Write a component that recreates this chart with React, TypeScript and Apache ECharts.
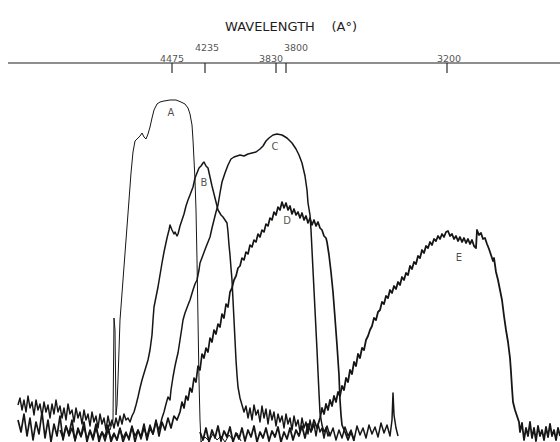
import React, { useEffect, useRef } from "react";
import * as echarts from "echarts";

// Recorder traces: [position along chart, deflection below top edge]
const TRACE_A: number[][] = [
  [105,425],[110,430],[113,420],[114,318],[115,330],[116,415],[117,405],[118,380],[120,320],[123,280],[126,240],[129,200],[131,173],[133,152],[135,141],[137,139],[140,136],[142,133],[144,137],[146,139],[148,134],[150,127],[152,118],[154,110],[157,104],[160,102],[164,101],[170,100],[176,100],[181,102],[185,104],[188,108],[190,114],[192,125],[193,140],[194,160],[195,180],[196,210],[197,260],[198,320],[199,380],[200,420],[201,442],
  [205,437],[209,441],[213,434],[217,440],[221,436],[225,442],[229,435],[233,440],[237,433],[241,441]
];

const TRACE_B: number[][] = [
  [18,405],[20,398],[22,410],[24,400],[26,412],[28,396],[30,408],[32,402],[34,415],[36,400],[38,410],[40,404],[42,416],[44,402],[46,412],[48,405],[50,418],[52,404],[54,414],[56,400],[58,412],[60,406],[62,418],[64,408],[66,420],[68,404],[70,414],[72,410],[74,422],[76,408],[78,418],[80,412],[82,424],[84,410],[86,420],[88,414],[90,426],[92,412],[94,422],[96,416],[98,428],[100,414],[102,424],[104,418],[106,430],[108,416],[110,426],[112,420],[114,428],[116,418],[118,426],[120,416],[122,424],[124,414],[126,420],[128,418],[130,422],[132,416],[134,412],[136,405],[138,397],[140,388],[142,380],[145,370],[148,360],[150,350],[152,335],[153,320],[154,307],[156,297],[158,287],[160,275],[162,263],[164,252],[167,238],[169,230],[170,225],[172,230],[174,234],[175,232],[177,236],[178,234],[180,226],[182,220],[184,214],[186,206],[188,200],[190,195],[193,187],[195,178],[197,173],[199,168],[201,166],[203,163],[204,162],[206,166],[208,168],[210,177],[212,186],[214,194],[216,202],[218,210],[221,215],[223,217],[225,220],[227,223],[228,232],[229,245],[230,255],[231,268],[232,280],[233,300],[234,320],[235,340],[236,360],[237,375],[238,387],[240,398],[242,405],[244,412],[246,406],[248,418],[250,408],[252,420],[254,405],[256,415],[258,410],[260,422],[262,406],[264,418],[266,409],[268,424],[270,410],[272,420],[274,412],[276,426],[278,414],[280,422],[282,416],[284,428],[286,414],[288,424],[290,418],[292,430],[294,416],[296,426],[298,420],[300,432],[302,418],[304,428],[306,422],[308,434],[310,420],[312,430],[314,424],[316,436],[318,424],[320,432],[322,428],[324,438],[326,428],[328,436],[330,432]
];

const TRACE_C: number[][] = [
  [60,430],[63,438],[66,426],[69,436],[72,428],[75,440],[78,430],[81,437],[84,427],[87,439],[90,431],[93,440],[96,428],[99,438],[102,432],[105,441],[108,430],[111,439],[114,433],[117,440],[120,429],[123,438],[126,432],[129,440],[132,427],[135,436],[138,430],[141,439],[144,428],[147,437],[150,425],[153,434],[156,422],[159,430],[162,418],[164,412],[166,404],[168,397],[170,400],[171,390],[173,377],[175,366],[177,357],[178,353],[180,340],[182,327],[183,320],[185,313],[188,305],[190,300],[193,290],[195,284],[197,280],[199,270],[200,263],[203,255],[206,247],[208,242],[210,237],[212,228],[214,220],[216,212],[218,205],[220,193],[222,182],[225,173],[228,165],[231,159],[234,157],[237,156],[240,155],[244,156],[248,154],[252,153],[256,152],[260,149],[263,146],[266,141],[269,138],[273,135],[277,134],[282,135],[287,138],[292,143],[296,149],[299,155],[302,163],[305,176],[307,190],[308,203],[310,215],[311,230],[312,250],[313,270],[314,290],[315,310],[316,330],[317,350],[318,372],[319,393],[320,413],[322,425],[324,432],[327,426],[330,436],[333,428],[336,440],[339,430],[342,438],[345,427],[348,436],[351,430],[354,440],[357,426],[360,435],[363,428],[366,438],[369,425],[372,434],[375,427],[378,437],[381,423],[384,433],[387,425],[390,436],[392,420],[393,393],[394,415],[396,428],[398,436]
];

const TRACE_D: number[][] = [
  [18,420],[21,432],[24,414],[27,436],[30,418],[33,440],[36,422],[39,434],[42,412],[45,438],[48,420],[51,442],[54,424],[57,436],[60,416],[63,440],[66,426],[69,434],[72,420],[75,441],[78,428],[81,436],[84,422],[87,442],[90,430],[93,438],[96,424],[99,442],[102,432],[105,437],[108,425],[111,442],[114,434],[117,440],[120,428],[123,442],[126,434],[129,438],[132,426],[135,442],[138,430],[141,437],[144,424],[147,440],[150,428],[153,434],[156,420],[159,436],[162,422],[165,430],[168,418],[171,428],[174,416],[177,420],
  [180,412],[182,402],[184,408],[186,396],[188,400],[190,388],[192,392],[194,378],[196,382],[198,366],[200,370],[202,354],[204,358],[206,348],[208,352],[210,338],[212,342],[214,330],[216,334],[218,324],[220,327],[222,314],[224,318],[226,304],[228,307],[230,292],[232,288],[234,280],[236,276],[238,268],[240,266],[242,258],[244,260],[246,252],[248,254],[250,245],[252,247],[254,240],[256,242],[258,234],[260,237],[262,230],[264,232],[266,224],[268,226],[270,218],[272,220],[274,212],[276,215],[278,207],[280,210],[282,202],[284,208],[286,203],[288,210],[290,206],[292,214],[294,209],[296,215],[298,212],[300,218],[302,213],[304,220],[306,216],[308,223],[310,218],[312,225],[314,220],[316,226],[318,222],[320,228],[322,230],[324,236],[326,238],[327,242],
  [329,255],[331,272],[333,292],[335,318],[337,345],[339,375],[340,400],[341,415],[342,425],[345,432],[348,440],[351,432],[354,441]
];

const TRACE_E: number[][] = [
  [200,432],[203,440],[206,428],[209,442],[212,430],[215,438],[218,426],[221,441],[224,431],[227,437],[230,427],[233,442],[236,433],[239,439],[242,428],[245,441],[248,430],[251,437],[254,426],[257,442],[260,432],[263,438],[266,428],[269,441],[272,431],[275,437],[278,427],[281,442],[284,432],[287,439],[290,428],[293,440],[296,430],[299,436],[302,426],[305,438],[308,424],[311,432],[314,420],[317,428],
  [320,418],[322,408],[324,414],[326,404],[328,410],[330,400],[332,406],[334,396],[336,402],[338,392],[340,396],[342,386],[344,390],[346,378],[348,382],[350,370],[352,374],[354,362],[356,366],[358,354],[360,358],[362,348],[364,350],[366,340],[368,336],[370,330],[372,326],[374,318],[376,320],[378,312],[380,310],[382,302],[384,304],[386,296],[388,298],[390,290],[392,293],[394,286],[396,289],[398,282],[400,285],[402,277],[404,280],[406,273],[408,275],[410,266],[412,269],[414,262],[416,264],[418,256],[420,258],[422,250],[424,253],[426,246],[428,248],[430,242],[432,245],[434,239],[436,241],[438,236],[440,239],[442,234],[444,237],[446,232],[448,231],[450,236],[452,234],[454,239],[456,236],[458,241],[460,237],[462,242],[464,238],[466,243],[468,239],[470,244],[472,240],[474,246],[476,248],[477,230],[479,235],[481,233],[483,239],[485,238],[487,244],[489,249],[491,255],[493,261],[494,258],[496,272],[498,280],[500,290],[502,300],[504,316],[506,330],[508,342],[510,358],[511,372],[512,388],[513,402],[515,410],[517,416],[519,422],
  [520,432],[522,423],[524,440],[526,428],[528,436],[530,422],[532,438],[534,428],[536,441],[538,426],[540,436],[542,430],[544,440],[546,427],[548,437],[550,424],[552,436],[554,430],[556,440],[558,428],[560,436]
];

// Wavelength scale (top)
const TICK_POS = [172, 205, 276, 286, 447];
const TICK_LABELS = ["4475", "4235", "3830", "3800", "3200"];
const TICK_RAISED = [false, true, false, true, false];
const AXIS_ROW = 63;
const AXIS_SPAN = [8, 560];

// Curve letters
const CURVE_NAMES = ["A", "B", "C", "D", "E"];
const CURVE_LABEL_POS = [[171, 112], [204, 182], [275, 146], [287, 220], [459, 257]];

const INK = "#161616";
const TEXT = "#1e1e1e";
const FONT = "DejaVu Sans";

export default function App() {
  const ref = useRef<HTMLDivElement>(null);
  useEffect(() => {
    document.body.style.margin = "0";
    const chart = echarts.init(ref.current!, undefined, { renderer: "svg" });
    const labelOffsets: Record<string, number> = { "3830": -5, "3800": 10, "4235": 2, "3200": 2 };
    const traceStyle = (w: number) => ({
      type: "line" as const,
      showSymbol: false,
      symbol: "none",
      silent: true,
      lineStyle: { color: INK, width: w, join: "round" as const },
      z: 3,
    });
    chart.setOption({
      animation: false,
      backgroundColor: "#ffffff",
      title: {
        text: "WAVELENGTH    (A°)",
        left: 286,
        top: 15,
        textAlign: "center",
        textStyle: { fontFamily: FONT, fontSize: 13, fontWeight: "normal", color: TEXT },
      },
      grid: { left: 0, right: 0, top: 0, bottom: 0 },
      xAxis: { type: "value", min: 0, max: 560, show: false },
      yAxis: { type: "value", min: 0, max: 442, inverse: true, show: false },
      series: [
        { ...traceStyle(1), name: "A", data: TRACE_A },
        { ...traceStyle(1.5), name: "B", data: TRACE_B },
        { ...traceStyle(1.5), name: "C", data: TRACE_C },
        { ...traceStyle(1.7), name: "D", data: TRACE_D },
        { ...traceStyle(1.8), name: "E", data: TRACE_E },
        {
          type: "line",
          name: "axis",
          symbol: "none",
          silent: true,
          lineStyle: { color: TEXT, width: 1.2 },
          data: [[AXIS_SPAN[0], AXIS_ROW], [AXIS_SPAN[1], AXIS_ROW]],
        },
        {
          type: "scatter",
          name: "ticks",
          silent: true,
          symbol: "rect",
          symbolSize: [1.4, 10],
          itemStyle: { color: TEXT },
          data: TICK_POS.map((x) => [x, AXIS_ROW + 5]),
        },
        {
          type: "scatter",
          name: "tickLabels",
          silent: true,
          symbolSize: 0,
          itemStyle: { color: TEXT },
          data: TICK_POS.map((x, i) => ({
            value: [x + (labelOffsets[TICK_LABELS[i]] || 0), TICK_RAISED[i] ? AXIS_ROW - 16 : AXIS_ROW - 5],
            label: {
              show: true,
              formatter: TICK_LABELS[i],
              position: "inside",
              fontFamily: FONT,
              fontSize: 9.5,
              color: TEXT,
            },
          })),
        },
        {
          type: "scatter",
          name: "curveLabels",
          silent: true,
          symbolSize: 0,
          itemStyle: { color: TEXT },
          data: CURVE_NAMES.map((n, i) => ({
            value: CURVE_LABEL_POS[i],
            label: {
              show: true,
              formatter: n,
              position: "inside",
              fontFamily: FONT,
              fontSize: 10,
              color: TEXT,
            },
          })),
        },
      ],
    });
    return () => chart.dispose();
  }, []);
  return <div ref={ref} style={{ position: "absolute", left: 0, top: 0, width: 560, height: 442 }} />;
}
